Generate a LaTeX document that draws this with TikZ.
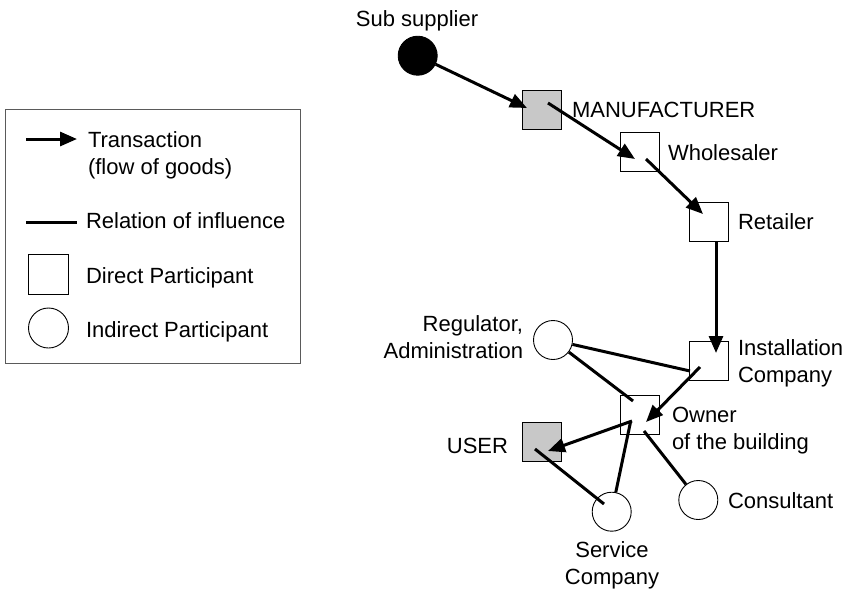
\documentclass[tikz,border=0pt]{standalone}
\usepackage{fontspec}
\setmainfont{Liberation Sans}
\usetikzlibrary{arrows.meta}
\definecolor{boxgray}{RGB}{200,200,200}
\definecolor{framegray}{RGB}{90,90,90}
\tikzset{
  part/.style={draw, rectangle, minimum size=39pt, inner sep=0pt, line width=0.9pt},
  dpart/.style={part, fill=boxgray},
  ipart/.style={draw, circle, minimum size=39pt, inner sep=0pt, line width=0.9pt},
  flow/.style={line width=3pt, -{Triangle[length=17pt,width=14pt]}},
  infl/.style={line width=3pt},
  lbl/.style={inner sep=0pt, outer sep=0pt},
}
\begin{document}
\begin{tikzpicture}[x=1pt, y=-1pt, font=\fontsize{22}{26.5}\selectfont]
\useasboundingbox (0,0) rectangle (845,598);

% legend
\node[draw=framegray, line width=1pt, minimum width=295pt, minimum height=254pt,
      inner sep=0pt, anchor=north west] (legend) at (5,109) {};
\coordinate (la0) at (26,139);
\coordinate (la1) at (77,139);
\draw[flow] (la0) -- (la1);
\node[lbl, anchor=base west, align=left] (lgT) at (88,174) {Transaction\\(flow of goods)};
\coordinate (lr0) at (26,222);
\coordinate (lr1) at (77,222);
\draw[infl] (lr0) -- (lr1);
\node[lbl, anchor=base west] (lgR) at (86,228.5) {Relation of influence};
\node[part, minimum size=40pt] (lgsq) at (48.5,274) {};
\node[lbl, anchor=base west] (lgD) at (86,283) {Direct Participant};
\node[ipart, minimum size=40pt] (lgci) at (48.5,328) {};
\node[lbl, anchor=base west] (lgI) at (86,337) {Indirect Participant};

% participants
\node[ipart, fill=black] (sub) at (417.7,55.7) {};
\node[dpart] (man) at (541.5,110) {};
\node[part] (whl) at (639.5,152) {};
\node[part] (ret) at (708.5,221.5) {};
\node[part] (ins) at (708.5,360.5) {};
\node[ipart] (reg) at (553,340) {};
\node[part] (own) at (639.5,415) {};
\node[dpart] (usr) at (541.5,441.5) {};
\node[ipart] (svc) at (611.7,511.7) {};
\node[ipart] (con) at (698.3,500) {};

% labels
\node[lbl, anchor=base] (subL) at (417,26) {Sub supplier};
\node[lbl, anchor=base west] (manL) at (572,117) {MANUFACTURER};
\node[lbl, anchor=base west] (whlL) at (668,160) {Wholesaler};
\node[lbl, anchor=base west] (retL) at (738,229) {Retailer};
\node[lbl, anchor=base west, align=left] (insL) at (738,382) {Installation\\Company};
\node[lbl, anchor=base east, align=right] (regL) at (523,358) {Regulator,\\Administration};
\node[lbl, anchor=base west, align=left] (ownL) at (672,449) {Owner\\of the building};
\node[lbl, anchor=base east] (usrL) at (508,453) {USER};
\node[lbl, anchor=base west] (conL) at (728,508) {Consultant};
\node[lbl, anchor=base, align=center] (svcL) at (612,584) {Service\\Company};

% transactions
\draw[flow] (sub) -- ([shift={(-14.5,-2)}]man.center);
\draw[flow] ([shift={(6.5,-7)}]man.center) -- ([shift={(-4.5,7)}]whl.center);
\draw[flow] ([shift={(6.5,7)}]whl.center) -- ([shift={(-5.5,-7.5)}]ret.center);
\draw[flow] ([xshift=7.5pt]ret.south) -- ([shift={(7.5,-7.5)}]ins.center);
\draw[flow] ([shift={(-8.5,6.5)}]ins.center) -- ([shift={(6.5,7)}]own.center);
\draw[flow] ([shift={(-7.5,6)}]own.center) -- ([shift={(6.5,9.5)}]usr.center);

% influence
\draw[infl] (reg) -- ([shift={(-18.5,10.5)}]ins.center);
\draw[infl] (reg) -- ([shift={(-6.5,-14)}]own.center);
\draw[infl] ([shift={(-6.5,7.5)}]usr.center) -- ([shift={(-7.7,-7.7)}]svc.center);
\draw[infl] ([shift={(-9,7)}]own.center) -- (svc);
\draw[infl] ([shift={(4.5,16)}]own.center) -- (con);
\end{tikzpicture}
\end{document}
